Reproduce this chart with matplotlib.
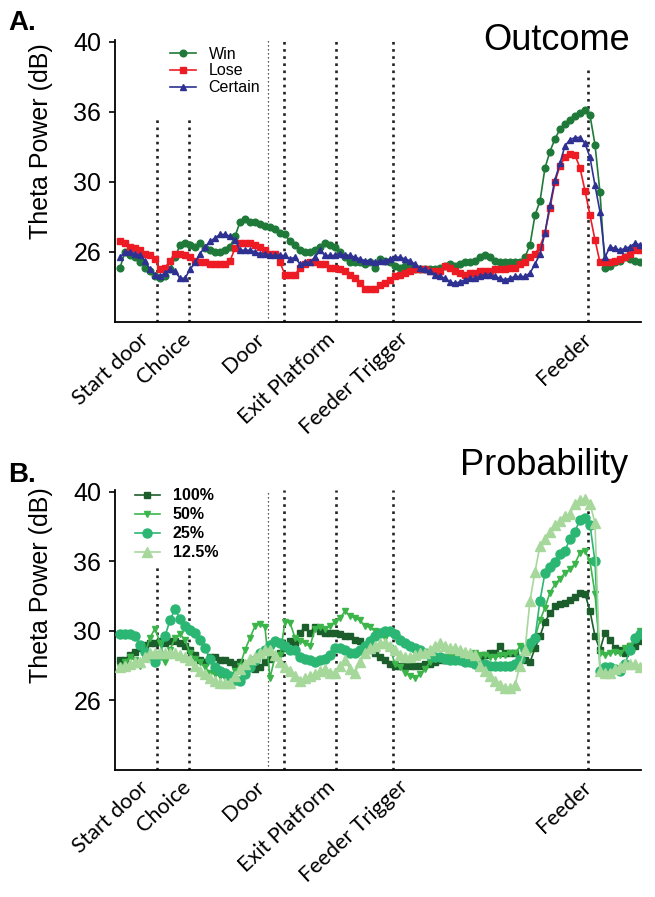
import numpy as np
import matplotlib
matplotlib.use("Agg")
import matplotlib.pyplot as plt


# Time bins across the trial (one point per bin)
n_bins = 105
t = np.arange(n_bins)

# Behavioural events (bin index) and where each label sits
event_names = ["Start door", "Choice", "Door", "Exit Platform", "Feeder Trigger", "Feeder"]
label_pos = [3.8, 12.2, 27.0, 41.0, 55.6, 92.4]
event_pos = [7.4, 13.8, 29.6, 32.8, 43.2, 54.6, 93.6]

# Y axis ticks (unevenly spaced values, evenly spaced on the axis)
ytick_vals = [26, 30, 36, 40]

# ---- Panel A: outcome ----
win = [25.1, 26.0, 25.8, 25.7, 25.4, 25.1, 24.9, 24.6, 24.5, 24.6,
       25.0, 25.7, 26.4, 26.5, 26.4, 26.3, 26.5, 26.2, 26.1, 26.0,
       26.0, 26.1, 26.3, 26.9, 27.7, 27.9, 27.7, 27.7, 27.6, 27.5,
       27.4, 27.3, 27.1, 27.0, 26.6, 26.4, 26.1, 26.0, 26.0, 26.1,
       26.3, 26.5, 26.4, 26.3, 26.0, 25.7, 25.4, 25.4, 25.4, 25.3,
       25.4, 25.1, 25.6, 25.5, 25.4, 25.2, 25.1, 25.2, 25.1, 25.0,
       25.0, 25.0, 25.0, 25.0, 25.1, 25.2, 25.3, 25.2, 25.3, 25.4,
       25.4, 25.5, 25.7, 25.8, 25.7, 25.5, 25.4, 25.4, 25.4, 25.4,
       25.4, 25.7, 26.4, 28.1, 28.9, 31.2, 32.6, 33.7, 34.5, 35.0,
       35.3, 35.6, 35.9, 36.1, 35.7, 33.2, 29.4, 25.1, 25.2, 25.4,
       25.5, 25.7, 25.6, 25.5, 25.4]

lose = [26.6, 26.5, 26.3, 26.2, 26.1, 25.9, 25.8, 25.6, 25.0, 25.1,
        25.5, 25.9, 25.9, 25.8, 25.7, 25.5, 25.4, 25.4, 25.3, 25.3,
        25.3, 25.3, 25.5, 26.2, 26.5, 26.5, 26.5, 26.4, 26.3, 26.1,
        25.9, 25.9, 25.4, 24.7, 24.7, 24.7, 25.1, 25.3, 25.4, 25.4,
        25.3, 25.3, 25.1, 25.1, 25.0, 24.9, 24.7, 24.5, 24.2, 23.9,
        23.9, 23.9, 24.1, 24.2, 24.4, 24.6, 24.7, 24.8, 24.9, 25.0,
        25.0, 25.0, 24.9, 24.9, 24.9, 25.2, 25.1, 24.9, 24.8, 24.7,
        24.8, 24.8, 24.9, 24.9, 24.9, 25.0, 25.0, 25.0, 25.1, 25.1,
        25.3, 25.4, 25.7, 25.9, 26.3, 27.1, 28.5, 30.0, 31.4, 32.1,
        32.4, 32.3, 31.2, 29.5, 28.1, 26.7, 25.4, 25.4, 25.4, 25.5,
        25.6, 25.7, 25.9, 26.1, 26.1]

certain = [25.7, 26.0, 26.0, 25.9, 25.8, 25.5, 25.0, 24.7, 24.6, 24.8,
           25.0, 24.9, 24.5, 24.5, 25.0, 25.4, 25.9, 26.3, 26.6, 26.8,
           27.0, 27.0, 26.9, 26.7, 26.1, 26.1, 26.1, 26.0, 25.9, 25.9,
           25.8, 25.8, 25.8, 25.8, 25.6, 25.7, 25.3, 25.4, 25.4, 25.7,
           26.1, 25.8, 25.8, 25.8, 25.9, 25.8, 25.8, 25.7, 25.6, 25.5,
           25.5, 25.4, 25.5, 25.5, 25.6, 25.7, 25.7, 25.6, 25.5, 25.3,
           25.1, 25.0, 24.9, 24.7, 24.6, 24.5, 24.3, 24.2, 24.3, 24.4,
           24.5, 24.5, 24.6, 24.7, 24.7, 24.6, 24.5, 24.4, 24.5, 24.6,
           24.6, 24.6, 24.8, 25.3, 25.9, 27.1, 28.7, 30.2, 31.6, 33.1,
           33.6, 33.8, 33.8, 33.3, 32.1, 29.8, 28.3, 25.7, 26.3, 26.2,
           26.1, 26.2, 26.3, 26.5, 26.4]

# ---- Panel B: probability ----
p100 = [28.3, 28.3, 28.6, 28.8, 29.0, 29.2, 29.3, 29.3, 29.4, 29.3,
        29.4, 29.4, 29.3, 29.1, 28.9, 28.6, 28.3, 28.2, 28.5, 28.5,
        28.3, 28.3, 28.2, 28.1, 28.2, 28.1, 27.9, 27.8, 27.9, 28.2,
        28.4, 28.5, 28.7, 29.0, 29.4, 29.3, 29.9, 30.3, 29.9, 30.3,
        30.0, 29.9, 29.9, 29.9, 29.8, 29.7, 29.7, 29.5, 29.4, 29.1,
        28.9, 28.7, 28.5, 28.3, 28.1, 28.0, 28.0, 28.0, 28.0, 28.0,
        28.0, 28.1, 28.1, 28.2, 28.3, 28.3, 28.3, 28.3, 28.3, 28.3,
        28.3, 28.5, 28.5, 28.6, 28.7, 28.7, 29.1, 28.7, 28.7, 28.7,
        28.4, 28.3, 28.2, 29.0, 29.7, 30.8, 31.5, 32.1, 32.3, 32.4,
        32.7, 32.9, 33.3, 33.2, 31.7, 29.7, 28.9, 29.9, 29.5, 29.0,
        28.9, 28.7, 29.1, 29.1, 29.4]

p50 = [27.9, 28.2, 28.5, 28.3, 28.0, 28.7, 29.6, 30.2, 29.3, 28.2,
       28.9, 29.6, 29.8, 29.5, 28.7, 28.4, 28.2, 27.9, 27.6, 27.5,
       27.4, 27.3, 27.4, 27.7, 28.0, 28.9, 29.6, 30.4, 30.6, 30.3,
       27.3, 28.5, 28.6, 30.8, 30.7, 29.6, 29.4, 29.3, 29.1, 30.2,
       30.3, 30.2, 30.4, 30.8, 31.1, 31.7, 31.3, 31.1, 30.9, 30.4,
       30.3, 30.0, 29.8, 29.6, 29.0, 28.1, 27.9, 27.6, 27.4, 27.3,
       27.5, 27.8, 28.2, 28.4, 28.5, 28.5, 28.5, 28.5, 28.5, 28.4,
       28.5, 28.7, 28.6, 28.6, 28.5, 28.5, 28.6, 28.6, 28.7, 28.7,
       29.1, 29.0, 28.9, 29.6, 30.9, 32.0, 33.3, 34.0, 34.5, 35.0,
       35.3, 35.8, 36.5, 36.6, 36.0, 33.2, 28.7, 28.6, 28.7, 28.8,
       28.7, 29.0, 29.1, 29.6, 30.0]

p25 = [29.8, 29.8, 29.8, 29.7, 29.2, 28.8, 28.5, 28.2, 28.6, 29.7,
       30.9, 31.9, 31.0, 30.4, 30.1, 29.9, 29.5, 29.0, 28.4, 27.9,
       27.7, 27.6, 27.4, 27.2, 27.1, 27.5, 27.9, 28.3, 28.7, 28.9,
       29.2, 29.4, 29.3, 29.1, 28.9, 28.9, 28.5, 28.4, 28.3, 28.2,
       28.3, 28.4, 28.6, 29.0, 29.0, 28.9, 28.7, 28.7, 28.9, 29.1,
       29.4, 29.7, 29.9, 30.0, 30.0, 29.8, 29.5, 29.3, 29.1, 29.0,
       28.9, 28.7, 28.6, 28.5, 28.5, 28.4, 28.3, 28.3, 28.3, 28.2,
       28.2, 28.1, 28.1, 28.1, 28.0, 28.0, 28.0, 28.0, 28.0, 28.1,
       28.4, 28.9, 29.3, 29.6, 32.6, 35.0, 35.5, 35.9, 36.4, 36.6,
       37.3, 37.7, 38.4, 38.5, 38.1, 36.0, 27.7, 27.9, 27.9, 27.8,
       27.7, 28.1, 28.9, 29.6, 29.8]

p12 = [27.9, 28.0, 28.1, 28.2, 28.2, 28.5, 28.7, 28.7, 28.7, 28.7,
       28.7, 28.7, 28.6, 28.5, 28.3, 28.0, 27.7, 27.5, 27.3, 27.1,
       27.0, 27.0, 27.0, 27.4, 27.8, 28.1, 28.4, 28.5, 28.7, 28.9,
       28.9, 28.6, 28.2, 27.9, 27.7, 27.4, 27.1, 27.3, 27.4, 27.5,
       27.7, 27.8, 27.6, 27.6, 28.0, 28.3, 27.8, 27.6, 28.2, 28.7,
       29.0, 29.1, 29.3, 29.3, 29.1, 28.9, 28.6, 28.5, 28.5, 28.6,
       28.7, 28.7, 28.9, 29.1, 29.3, 29.1, 29.0, 29.0, 28.9, 28.8,
       28.7, 28.6, 28.0, 27.7, 27.4, 27.1, 26.9, 26.7, 26.7, 26.9,
       28.0, 28.9, 32.6, 35.1, 36.9, 37.3, 37.7, 38.1, 38.3, 38.6,
       38.7, 39.3, 39.5, 39.6, 39.3, 38.2, 27.7, 27.6, 27.6, 27.8,
       27.9, 28.1, 28.1, 28.1, 27.9]


# The y axis puts 22, 26, 30, 36, 40 dB at equal spacing -> piecewise linear scale
scale_db = [18, 22, 26, 30, 36, 40, 44]
scale_pos = [-1, 0, 1, 2, 3, 4, 5]

def forward(y):
    return np.interp(y, scale_db, scale_pos)

def inverse(y):
    return np.interp(y, scale_pos, scale_db)


label_font = "Liberation Sans"
event_font = "Lato"

fig = plt.figure(figsize=(6.55, 8.97), dpi=100)
ax_a = fig.add_axes([0.1756, 0.641, 0.803, 0.3144])
ax_b = fig.add_axes([0.1756, 0.1416, 0.803, 0.3122])


def style_axis(ax, line_tops, ylabel_y):
    ax.set_yscale("function", functions=(forward, inverse))
    ax.set_ylim(22, 40.1)
    ax.set_xlim(-1, 104.2)
    ax.spines["top"].set_visible(False)
    ax.spines["right"].set_visible(False)
    ax.spines["left"].set_linewidth(1.3)
    ax.spines["bottom"].set_linewidth(1.3)
    ax.set_yticks(ytick_vals)
    ax.set_yticklabels([str(v) for v in ytick_vals], fontsize=18, family=label_font)
    ax.yaxis.set_minor_locator(matplotlib.ticker.NullLocator())
    ax.tick_params(axis="y", length=4, width=1.2, pad=6)
    ax.set_xticks(label_pos)
    ax.set_xticklabels(event_names, rotation=43, ha="right", rotation_mode="anchor",
                       fontsize=15.5, family=event_font)
    ax.tick_params(axis="x", length=0, pad=5)
    ax.set_ylabel("Theta Power (dB)", fontsize=18, family=label_font)
    ax.yaxis.set_label_coords(-0.118, ylabel_y)
    # event markers (dotted vertical lines)
    for i, x in enumerate(event_pos):
        if i == 2:
            ax.axvline(x, ymin=0, ymax=line_tops[i], color="#222222", lw=0.9,
                       linestyle=(0, (1, 2.2)), zorder=1)
        else:
            ax.axvline(x, ymin=0, ymax=line_tops[i], color="#222222", lw=1.9,
                       linestyle=(0, (1, 1.7)), zorder=1)


style_axis(ax_a, [0.727, 0.727, 1.0, 1.0, 1.0, 1.0, 0.894], 0.64)
style_axis(ax_b, [0.732, 0.732, 1.0, 1.0, 1.0, 1.0, 0.954], 0.66)

# Panel A lines
ax_a.plot(t, win, color="#1f7a3a", marker="o", ms=4.8, lw=1.2, label="Win", zorder=3)
ax_a.plot(t, lose, color="#ed1c24", marker="s", ms=4.5, lw=1.2, label="Lose", zorder=4)
ax_a.plot(t, certain, color="#2e3192", marker="^", ms=5, lw=1.2, label="Certain", zorder=5)

ax_a.legend(loc="upper left", bbox_to_anchor=(0.09, 1.005), frameon=False,
            prop={"family": label_font, "size": 11.5}, handlelength=1.6,
            handletextpad=0.8, labelspacing=0.12, borderpad=0)

# Panel B lines
ax_b.plot(t, p100, color="#1b5e2b", marker="s", ms=5, lw=1.2, label="100%", zorder=3)
ax_b.plot(t, p50, color="#3cb54a", marker="v", ms=5, lw=1.2, label="50%", zorder=4)
ax_b.plot(t, p25, color="#2bb673", marker="o", ms=6.5, lw=1.2, label="25%", zorder=5)
ax_b.plot(t, p12, color="#a6d89b", marker="^", ms=6.5, lw=1.2, label="12.5%", zorder=6)

ax_b.legend(loc="upper left", bbox_to_anchor=(0.022, 1.035), frameon=False,
            prop={"family": label_font, "size": 11.5, "weight": "bold"},
            handlelength=1.6, handletextpad=0.8, labelspacing=0.25, borderpad=0)

# Panel letters and titles
fig.text(8 / 655, 1 - 30 / 897, "A.", fontsize=20, fontweight="bold", family=label_font)
fig.text(8 / 655, 1 - 482 / 897, "B.", fontsize=20, fontweight="bold", family=label_font)
fig.text(630 / 655, 1 - 50 / 897, "Outcome", fontsize=26, family=label_font, ha="right")
fig.text(628 / 655, 1 - 475 / 897, "Probability", fontsize=26, family=label_font, ha="right")

fig.savefig("out.png", dpi=100)
